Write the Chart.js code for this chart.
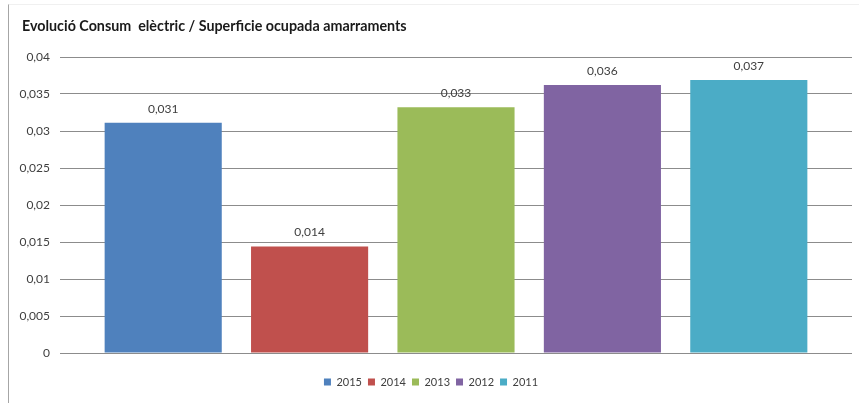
<!DOCTYPE html>
<html>
<head>
<meta charset="utf-8">
<script src="https://cdn.jsdelivr.net/npm/chart.js@4/dist/chart.umd.min.js"></script>
<style>
  body { margin: 0; background: #fff; }
  #wrap { position: relative; width: 859px; height: 404px; }
  #frame { position: absolute; left: 8px; top: 4px; width: 850px; height: 398px;
           border-left: 1px solid #a6a6a6; border-top: 1px solid #f0f0f0; pointer-events: none; }
</style>
</head>
<body>
<div id="wrap">
  <canvas id="consumChart" width="859" height="404"></canvas>
  <div id="frame"></div>
</div>
<script>
const chartTitle = 'Evolució Consum  elèctric / Superficie ocupada amarraments';
const years = ['2015', '2014', '2013', '2012', '2011'];
const consum = [0.0311, 0.0144, 0.0332, 0.0362, 0.0369];
const barColors = ['#4F81BD', '#C0504D', '#9BBB59', '#8064A2', '#4BACC6'];
const yMin = 0;
const yMax = 0.04;
const yStep = 0.005;

function fmt(v, digits) {
  return String(+v.toFixed(digits)).replace('.', ',');
}

// title + value labels above each bar
const barLabels = {
  id: 'barLabels',
  afterDatasetsDraw(chart) {
    const ctx = chart.ctx;
    ctx.save();
    ctx.font = 'bold 14.3px Lato';
    ctx.fillStyle = '#1a1a1a';
    ctx.textAlign = 'left';
    ctx.textBaseline = 'middle';
    ctx.fillText(chartTitle, 22, 26);

    ctx.font = '12px Lato';
    ctx.fillStyle = '#404040';
    ctx.textAlign = 'center';
    chart.data.datasets.forEach((ds, i) => {
      chart.getDatasetMeta(i).data.forEach((bar, j) => {
        if (ds.data[j] == null) return;
        ctx.fillText(ds.data[j].toFixed(3).replace('.', ','), bar.x, bar.y - 14);
      });
    });
    ctx.restore();
  }
};

const datasets = years.map((year, i) => ({
  label: year,
  data: years.map((_, j) => (j === i ? consum[i] : null)),
  backgroundColor: barColors[i],
  grouped: false,
  categoryPercentage: 0.8,
  barPercentage: 1.0
}));

const chartElem = document.getElementById('consumChart').getContext('2d');

new Chart(chartElem, {
  type: 'bar',
  data: { labels: years, datasets: datasets },
  plugins: [barLabels],
  options: {
    responsive: false,
    animation: false,
    layout: { padding: { left: 10, right: 7, top: 57, bottom: 6.5 } },
    plugins: {
      title: { display: false },
      legend: {
        position: 'bottom',
        labels: {
          color: '#404040',
          font: { family: 'Lato', size: 11 },
          boxWidth: 7,
          boxHeight: 7,
          padding: 6
        }
      },
      tooltip: { enabled: false }
    },
    scales: {
      x: {
        ticks: { display: false },
        grid: { display: false },
        border: { display: false },
        afterFit(scale) { scale.height = 17.5; }
      },
      y: {
        min: yMin,
        max: yMax,
        ticks: {
          stepSize: yStep,
          padding: 10,
          color: '#404040',
          font: { family: 'Lato', size: 12 },
          callback: (v) => fmt(v, 3)
        },
        grid: { color: '#8c8c8c', tickLength: 30, tickColor: '#8c8c8c' },
        border: { display: false },
        afterFit(scale) { scale.width = 80; }
      },
      y2: {
        position: 'right',
        min: yMin,
        max: yMax,
        ticks: { stepSize: yStep, display: false },
        grid: { drawOnChartArea: false, tickLength: 30, tickColor: '#8c8c8c' },
        border: { display: false },
        afterFit(scale) { scale.width = 30; }
      }
    }
  }
});
</script>
</body>
</html>
